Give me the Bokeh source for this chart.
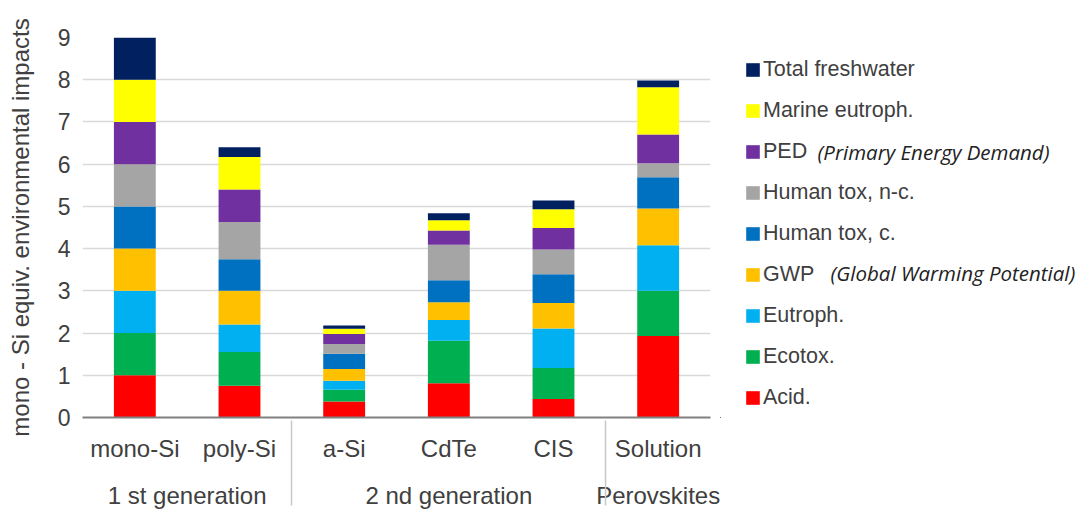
from bokeh.plotting import figure
from bokeh.layouts import row
from bokeh.models import FactorRange, Legend, LegendItem, Label, SingleIntervalTicker
from bokeh.embed import file_html
from bokeh.resources import INLINE

# ---- data ----
groups = ["1 st generation", "1 st generation", "2 nd generation", "2 nd generation", "2 nd generation", "Perovskites"]
categories = ["mono-Si", "poly-Si", "a-Si", "CdTe", "CIS", "Solution"]

series_names = ["Acid.", "Ecotox.", "Eutroph.", "GWP", "Human tox, c.", "Human tox, n-c.",
                "PED", "Marine eutroph.", "Total freshwater"]
acid       = [1.0, 0.75, 0.38, 0.81, 0.44, 1.93]
ecotox     = [1.0, 0.80, 0.28, 1.01, 0.73, 1.07]
eutroph    = [1.0, 0.65, 0.21, 0.49, 0.94, 1.08]
gwp        = [1.0, 0.80, 0.28, 0.42, 0.60, 0.87]
htox_c     = [1.0, 0.75, 0.36, 0.52, 0.68, 0.74]
htox_nc    = [1.0, 0.88, 0.23, 0.84, 0.59, 0.33]
ped        = [1.0, 0.77, 0.24, 0.34, 0.51, 0.68]
marine     = [1.0, 0.77, 0.12, 0.24, 0.44, 1.12]
freshwater = [1.0, 0.23, 0.08, 0.17, 0.21, 0.16]
colors = ["#FF0000", "#00B050", "#00B0F0", "#FFC000", "#0070C0", "#A5A5A5",
          "#7030A0", "#FFFF00", "#002060"]
legend_notes = {"PED": "(Primary Energy Demand)", "GWP": "(Global Warming Potential)"}

factors = list(zip(groups, categories))
keys = ["s%d" % i for i in range(len(series_names))]
data = {"x": factors, "idx": list(range(len(categories)))}
for k, vals in zip(keys, [acid, ecotox, eutroph, gwp, htox_c, htox_nc, ped, marine, freshwater]):
    data[k] = vals

TEXT = "#404040"
FONT = "Liberation Sans"
H = 511
TOP, BOTTOM = 37, 93

# ---- main chart ----
p = figure(width=720, height=H, output_backend="svg", toolbar_location=None,
           x_range=FactorRange(*factors, group_padding=0, factor_padding=0, range_padding=0),
           y_range=(0, 9),
           min_border_left=82, min_border_right=10, min_border_top=TOP, min_border_bottom=BOTTOM)
p.outline_line_color = None

p.vbar_stack(keys, x="x", width=0.4, color=colors, line_color=None, source=data)

p.yaxis.ticker = SingleIntervalTicker(interval=1)
p.yaxis.axis_line_color = None
p.yaxis.major_tick_line_color = None
p.yaxis.minor_tick_line_color = None
p.yaxis.major_tick_out = 0
p.yaxis.minor_tick_out = 0
p.yaxis.major_label_text_font = FONT
p.yaxis.major_label_text_font_size = "23px"
p.yaxis.major_label_text_color = TEXT
p.yaxis.major_label_standoff = 12
p.yaxis.axis_label = "mono - Si equiv. environmental impacts"
p.yaxis.axis_label_text_font = FONT
p.yaxis.axis_label_text_font_size = "24px"
p.yaxis.axis_label_text_font_style = "normal"
p.yaxis.axis_label_text_color = TEXT
p.yaxis.axis_label_standoff = 21

p.xaxis.axis_line_color = "#808080"
p.xaxis.axis_line_width = 2
p.xaxis.major_tick_line_color = None
p.xaxis.major_tick_out = 0
p.xaxis.major_tick_in = 0
p.xaxis.axis_label_standoff = 0
p.xaxis.major_label_text_font = FONT
p.xaxis.major_label_text_font_size = "24px"
p.xaxis.major_label_text_color = TEXT
p.xaxis.major_label_standoff = 17
p.xaxis.group_text_font = FONT
p.xaxis.group_text_font_size = "24px"
p.xaxis.group_text_font_style = "normal"
p.xaxis.group_text_color = TEXT
p.xaxis.separator_line_color = "#C8C8C8"
p.xaxis.separator_line_width = 1.5

p.xgrid.grid_line_color = None
p.ygrid.grid_line_color = "#D9D9D9"
p.ygrid.grid_line_width = 1.5

# ---- legend panel ----
q = figure(width=364, height=H, output_backend="svg", toolbar_location=None,
           x_range=(100, 101), y_range=(100, 101),
           min_border_left=0, min_border_right=0, min_border_top=TOP, min_border_bottom=BOTTOM)
q.axis.visible = False
q.grid.visible = False
q.outline_line_color = None
lr = q.vbar_stack(keys, x="idx", width=0.4, color=colors, line_color=None, source=data)

items = [LegendItem(label=name, renderers=[r]) for name, r in zip(series_names, lr)][::-1]
legend = Legend(items=items, location=(24, 7), orientation="vertical",
                glyph_width=17, glyph_height=17, label_height=25, spacing=16,
                label_standoff=2, padding=0, margin=0,
                label_text_font=FONT, label_text_font_size="21.5px",
                label_text_color=TEXT, border_line_color=None,
                background_fill_alpha=0)
q.add_layout(legend, "center")

note_pos = {"PED": (97, 266), "GWP": (110, 145)}
for key, text in legend_notes.items():
    sx, sy = note_pos[key]
    q.add_layout(Label(x=sx, y=sy, x_units="screen", y_units="screen", text=text,
                       text_font="Open Sans", text_font_style="italic",
                       text_font_size="20.5px", text_color="#222222",
                       text_baseline="middle", text_align="left"))

layout = row(p, q, spacing=0)
open("out.html", "w").write(file_html(layout, INLINE))
